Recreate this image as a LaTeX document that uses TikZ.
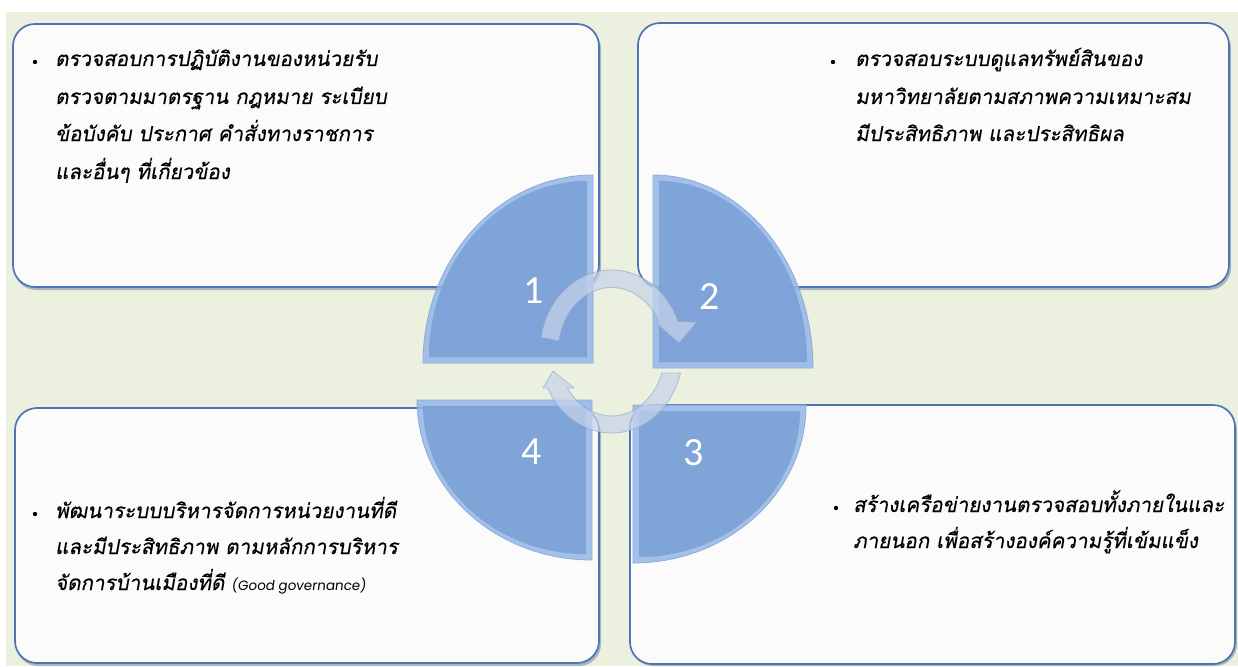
\documentclass[tikz,border=0pt]{standalone}
\usepackage{fontspec}
\newfontfamily\thaifont[Script=Thai,FakeSlant=0.18,FakeBold=0.35]{Loma}
\newfontfamily\numfont{Carlito}
\newfontfamily\latinfont[FakeSlant=0.12]{Poppins}
\definecolor{bggreen}{HTML}{EBF1DE}
\definecolor{boxline}{HTML}{4F74B5}
\definecolor{boxfill}{HTML}{FBFBFB}
\definecolor{shadowc}{HTML}{2F4A78}
\definecolor{quartmain}{HTML}{7CA1D7}
\definecolor{quartlight}{HTML}{93B6E8}
\definecolor{quartedge}{HTML}{8EABD6}
\definecolor{arrowfill}{HTML}{C6D3EA}
\definecolor{arrowedge}{HTML}{8FA6CD}
\begin{document}
\begin{tikzpicture}[x=1pt,y=1pt,
  panel/.style={draw=boxline, line width=1.7pt, fill=boxfill, rounded corners=22pt},
  panelshadow/.style={fill=shadowc, opacity=0.35, rounded corners=22pt},
  quarterouter/.style={fill=quartlight, fill opacity=0.85, draw=quartedge, line width=0.8pt},
  quarterinner/.style={fill=quartmain, fill opacity=0.9},
  cyclearrow/.style={fill=arrowfill, fill opacity=0.72, draw=arrowedge, draw opacity=0.6, line width=0.9pt, line join=round},
  thai/.style={font=\thaifont\fontsize{20.6}{24}\selectfont, anchor=base west, inner sep=0pt, text=black},
  bulletdot/.style={circle, fill=black, inner sep=0pt, minimum size=4.4pt},
  num/.style={font=\numfont\fontsize{40}{40}\selectfont, text=white, inner sep=0pt}
]
\useasboundingbox (0,0) rectangle (1238,-666);
\fill[white] (0,0) rectangle (1238,-666);
\fill[bggreen] (6,-12) rectangle (1238,-666);

% panels
\fill[panelshadow] (14,-27) rectangle (601,-290);
\draw[panel] (13,-24) rectangle (599,-287);
\fill[panelshadow] (639,-26) rectangle (1231,-290);
\draw[panel] (638,-23) rectangle (1229,-287);
\fill[panelshadow] (16,-411) rectangle (601,-666);
\draw[panel] (15,-408) rectangle (599,-663);
\fill[panelshadow] (631,-408) rectangle (1237,-666);
\draw[panel] (630,-405) rectangle (1235,-664);

% texts panel 1
\node[bulletdot] (b1) at (35,-62) {};
\node[thai] (t1a) at (55,-66) {ตรวจสอบการปฏิบัติงานของหน่วยรับ};
\node[thai] (t1b) at (55,-104) {ตรวจตามมาตรฐาน กฎหมาย ระเบียบ};
\node[thai] (t1c) at (55,-141) {ข้อบังคับ ประกาศ คำสั่งทางราชการ};
\node[thai] (t1d) at (55,-179) {และอื่นๆ ที่เกี่ยวข้อง};

% texts panel 2
\node[bulletdot] (b2) at (833,-62) {};
\node[thai] (t2a) at (855,-66) {ตรวจสอบระบบดูแลทรัพย์สินของ};
\node[thai] (t2b) at (855,-104) {มหาวิทยาลัยตามสภาพความเหมาะสม};
\node[thai] (t2c) at (855,-141) {มีประสิทธิภาพ และประสิทธิผล};

% texts panel 4
\node[bulletdot] (b4) at (35,-514) {};
\node[thai] (t4a) at (55,-518) {พัฒนาระบบบริหารจัดการหน่วยงานที่ดี};
\node[thai] (t4b) at (55,-554) {และมีประสิทธิภาพ ตามหลักการบริหาร};
\node[thai] (t4c) at (55,-590) {จัดการบ้านเมืองที่ดี\hspace{7pt}{\latinfont\fontsize{13.5}{14}\selectfont (Good governance)}};

% texts panel 3
\node[bulletdot] (b3) at (836,-508) {};
\node[thai] (t3a) at (853,-512) {สร้างเครือข่ายงานตรวจสอบทั้งภายในและ};
\node[thai] (t3b) at (853,-548) {ภายนอก เพื่อสร้างองค์ความรู้ที่เข้มแข็ง};

% quarters
\path[quarterouter] (593,-363) -- (423,-363) arc[start angle=180,end angle=90,x radius=170,y radius=188] -- cycle;
\path[quarterinner] (587,-357) -- (429,-357) arc[start angle=180,end angle=90,x radius=158,y radius=176] -- cycle;

\path[quarterouter] (653,-368) -- (813,-368) arc[start angle=0,end angle=90,x radius=160,y radius=193] -- cycle;
\path[quarterinner] (659,-362) -- (807,-362) arc[start angle=0,end angle=90,x radius=148,y radius=181] -- cycle;

\path[quarterouter] (633,-405) -- (806,-405) arc[start angle=0,end angle=-90,x radius=173,y radius=158] -- cycle;
\path[quarterinner] (639,-411) -- (800,-411) arc[start angle=0,end angle=-90,x radius=161,y radius=146] -- cycle;

\path[quarterouter] (592,-400) -- (417,-400) arc[start angle=180,end angle=270,x radius=175,y radius=160] -- cycle;
\path[quarterinner] (586,-406) -- (423,-406) arc[start angle=180,end angle=270,x radius=163,y radius=148] -- cycle;

% cycle arrows
\path[cyclearrow] (541.1,-337.3) arc[start angle=170,end angle=21.6,x radius=71.5,y radius=81.5]
  -- (697,-322) -- (679,-343) -- (655,-322) -- (659,-322)
  arc[start angle=27.7,end angle=170,x radius=53.5,y radius=64.5] -- cycle;
\path[cyclearrow] (680.5,-373) arc[start angle=-15.3,end angle=-153.4,x radius=71.5,y radius=81.5]
  -- (543,-388) -- (553,-371) -- (574,-388) -- (567.4,-388)
  arc[start angle=-145.5,end angle=-19.5,x radius=53.5,y radius=64.5] -- cycle;

% numbers
\node[num] (n1) at (534,-291) {1};
\node[num] (n2) at (710,-297) {2};
\node[num] (n3) at (694,-453) {3};
\node[num] (n4) at (532,-452) {4};
\end{tikzpicture}
\end{document}
